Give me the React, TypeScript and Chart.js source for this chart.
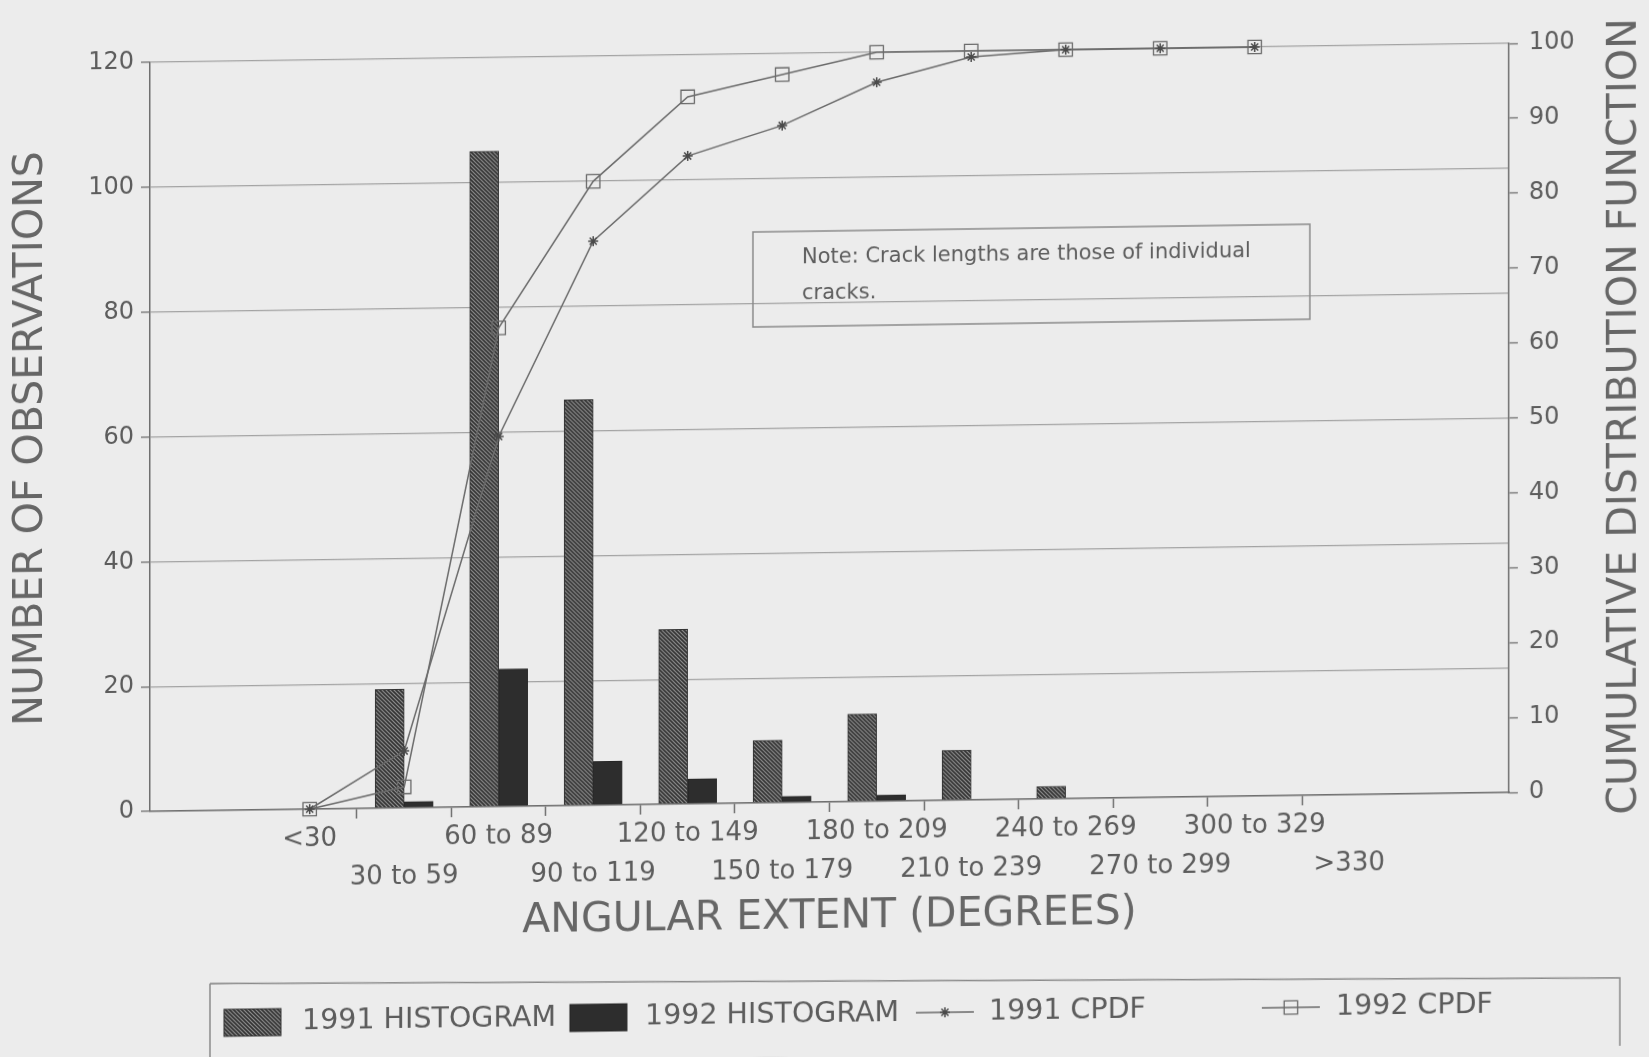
import React, { useEffect, useRef } from 'react';
import { Chart, registerables } from 'chart.js';
import { drawPoint } from 'chart.js/helpers';

Chart.register(...registerables);

// Angular-extent bins, in degrees
const categories = [
  '<30', '30 to 59', '60 to 89', '90 to 119', '120 to 149', '150 to 179',
  '180 to 209', '210 to 239', '240 to 269', '270 to 299', '300 to 329', '>330',
];

// Number of observations per bin
const hist1991 = [0, 19, 105, 65, 28, 10, 14, 8, 2, 0, 0, 0];
const hist1992 = [0, 1, 22, 7, 4, 1, 1, 0, 0, 0, 0, 0];

// Cumulative distribution (percent), one point per bin up to 300-329
const cpdf1991 = [0, 7.6, 49.4, 75.3, 86.5, 90.4, 96.0, 99.2, 100, 100, 100];
const cpdf1992 = [0, 2.8, 63.9, 83.3, 94.4, 97.2, 100, 100, 100, 100, 100];

const seriesLabels = ['1991 HISTOGRAM', '1992 HISTOGRAM', '1991 CPDF', '1992 CPDF'];
const countTicks = [0, 20, 40, 60, 80, 100, 120];
const percentTicks = [0, 10, 20, 30, 40, 50, 60, 70, 80, 90, 100];
const noteLines = ['Note: Crack lengths are those of individual', 'cracks.'];

const xTitle = 'ANGULAR EXTENT (DEGREES)';
const yTitle = 'NUMBER OF OBSERVATIONS';
const y1Title = 'CUMULATIVE DISTRIBUTION FUNCTION';

const FONT = "'DejaVu Sans', sans-serif";
const TEXT = '#5c5c5c';
const TITLE = '#666666';
const AXIS = '#6f6f6f';
const GRID = '#a3a3a3';
const LINE = '#6a6a6a';
const DARK = '#2d2d2d';

// empty space on either side of the first and last bin, in bin widths
const X_PAD = 1.69;

function makeHatch(): CanvasPattern | string {
  const c = document.createElement('canvas');
  c.width = 4;
  c.height = 4;
  const g = c.getContext('2d');
  if (!g) return '#555';
  g.fillStyle = '#8e8e8e';
  g.fillRect(0, 0, 4, 4);
  g.strokeStyle = '#343434';
  g.lineWidth = 1.6;
  g.beginPath();
  g.moveTo(-1, -1); g.lineTo(5, 5);
  g.moveTo(-1, 3); g.lineTo(1, 5);
  g.moveTo(3, -1); g.lineTo(5, 1);
  g.stroke();
  return g.createPattern(c, 'repeat') || '#555';
}

// Note box, right-hand axis title and boxed legend
const decorations = {
  id: 'decorations',
  afterDraw(chart: any) {
    const { ctx, chartArea } = chart;
    const ds = chart.data.datasets;
    ctx.save();

    // note box
    ctx.strokeStyle = '#8a8a8a';
    ctx.lineWidth = 1.5;
    ctx.strokeRect(753, 231, 557, 95);
    ctx.fillStyle = TEXT;
    ctx.font = `21px ${FONT}`;
    ctx.textAlign = 'left';
    ctx.textBaseline = 'middle';
    ctx.fillText(noteLines[0], 802, 258);
    ctx.fillText(noteLines[1], 802, 294);

    // right axis title, reading bottom to top
    ctx.save();
    ctx.translate(1625, (chartArea.top + chartArea.bottom) / 2);
    ctx.rotate(-Math.PI / 2);
    ctx.font = `41px ${FONT}`;
    ctx.fillStyle = TITLE;
    ctx.textAlign = 'center';
    ctx.fillText(y1Title, 0, 0);
    ctx.restore();

    // legend frame (its top edge runs a little flatter than the plot)
    ctx.strokeStyle = '#8a8a8a';
    ctx.lineWidth = 1.5;
    ctx.beginPath();
    ctx.moveTo(210, 975);
    ctx.lineTo(1620, 989);
    ctx.lineTo(1620, 1066);
    ctx.moveTo(210, 975);
    ctx.lineTo(210, 1052);
    ctx.lineTo(1620, 1066);
    ctx.stroke();

    const midY = 1014;
    const cols = [224, 570, 916, 1262];
    const textX = [302, 645, 989, 1336];
    ctx.font = `28.5px ${FONT}`;
    ctx.textBaseline = 'middle';
    ds.forEach((d: any, i: number) => {
      const x0 = cols[i];
      if (d.type === 'line') {
        ctx.strokeStyle = d.borderColor;
        ctx.lineWidth = d.borderWidth;
        ctx.beginPath();
        ctx.moveTo(x0, midY);
        ctx.lineTo(x0 + 58, midY);
        ctx.stroke();
        ctx.fillStyle = 'rgba(0,0,0,0)';
        ctx.strokeStyle = d.pointBorderColor;
        ctx.lineWidth = d.pointBorderWidth;
        drawPoint(ctx, {
          pointStyle: d.pointStyle,
          radius: d.pointRadius,
          borderWidth: d.pointBorderWidth,
          rotation: 0,
        } as any, x0 + 29, midY);
      } else {
        ctx.fillStyle = d.backgroundColor;
        ctx.fillRect(x0, midY - 13, 57, 27);
        ctx.strokeStyle = d.borderColor;
        ctx.lineWidth = 1;
        ctx.strokeRect(x0, midY - 13, 57, 27);
      }
      ctx.fillStyle = TEXT;
      ctx.fillText(d.label, textX[i], midY + 1);
    });
    ctx.restore();
  },
};

export default function App() {
  const canvasRef = useRef<HTMLCanvasElement | null>(null);

  useEffect(() => {
    const canvas = canvasRef.current;
    if (!canvas) return;
    const hatch = makeHatch();
    const lastIndex = categories.length - 1;

    const chart = new Chart(canvas, {
      type: 'bar',
      data: {
        datasets: [
          {
            type: 'bar',
            label: seriesLabels[0],
            data: hist1991.map((v, i) => ({ x: i, y: v })),
            backgroundColor: hatch as any,
            borderColor: '#333333',
            borderWidth: 1,
            barThickness: 29,
            yAxisID: 'y',
            order: 1,
          },
          {
            type: 'bar',
            label: seriesLabels[1],
            data: hist1992.map((v, i) => ({ x: i, y: v })),
            backgroundColor: DARK,
            borderColor: '#262626',
            borderWidth: 1,
            barThickness: 29,
            yAxisID: 'y',
            order: 1,
          },
          {
            type: 'line',
            label: seriesLabels[2],
            data: cpdf1991.map((v, i) => ({ x: i, y: v })),
            borderColor: LINE,
            borderWidth: 1.5,
            pointStyle: 'star',
            pointRadius: 5,
            pointBorderColor: '#4a4a4a',
            pointBackgroundColor: 'transparent',
            pointBorderWidth: 1.5,
            tension: 0,
            yAxisID: 'y1',
            order: 0,
            clip: false as any,
          },
          {
            type: 'line',
            label: seriesLabels[3],
            data: cpdf1992.map((v, i) => ({ x: i, y: v })),
            borderColor: LINE,
            borderWidth: 1.5,
            pointStyle: 'rect',
            pointRadius: 9.5,
            pointBorderColor: '#6a6a6a',
            pointBackgroundColor: 'transparent',
            pointBorderWidth: 1.3,
            tension: 0,
            yAxisID: 'y1',
            order: 0,
            clip: false as any,
          },
        ] as any,
      },
      options: {
        responsive: false,
        animation: false,
        devicePixelRatio: 1,
        layout: { padding: { top: 53, bottom: 115, left: 0, right: 0 } },
        plugins: {
          legend: { display: false },
          tooltip: { enabled: false },
        },
        scales: {
          x: {
            type: 'linear',
            position: 'bottom',
            min: -X_PAD,
            max: lastIndex + X_PAD,
            offset: false,
            afterBuildTicks: (scale: any) => {
              const t: { value: number }[] = [];
              for (let i = 0; i <= lastIndex; i++) {
                t.push({ value: i });
                if (i < lastIndex) t.push({ value: i + 0.5 });
              }
              scale.ticks = t;
            },
            afterFit: (scale: any) => {
              scale.height = 140;
            },
            ticks: {
              autoSkip: false,
              maxRotation: 0,
              minRotation: 0,
              padding: 1,
              color: TEXT,
              font: { family: FONT, size: 26, lineHeight: 1.5 },
              callback: (value: any) => {
                const v = Number(value);
                if (!Number.isInteger(v)) return '';
                const name = categories[v];
                return v % 2 === 0 ? [name, ''] : ['', name];
              },
            },
            grid: {
              offset: false,
              drawOnChartArea: false,
              drawTicks: true,
              tickLength: 10,
              tickWidth: 1.5,
              tickColor: (ctx: any) =>
                ctx.tick && Number.isInteger(ctx.tick.value) ? 'rgba(0,0,0,0)' : AXIS,
            },
            border: { display: true, color: AXIS, width: 1.5 },
            title: {
              display: true,
              text: xTitle,
              color: TITLE,
              font: { family: FONT, size: 41, lineHeight: 1.2 },
              padding: { top: 0, bottom: 0 },
            },
          },
          y: {
            type: 'linear',
            position: 'left',
            min: countTicks[0],
            max: countTicks[countTicks.length - 1],
            afterBuildTicks: (scale: any) => {
              scale.ticks = countTicks.map((v) => ({ value: v }));
            },
            afterFit: (scale: any) => {
              scale.width = 150;
            },
            ticks: {
              padding: 7,
              color: TEXT,
              font: { family: FONT, size: 24 },
            },
            grid: {
              color: GRID,
              lineWidth: 1.3,
              drawTicks: true,
              tickLength: 9,
              tickColor: AXIS,
              tickWidth: 1.3,
            },
            border: { display: true, color: AXIS, width: 1.5 },
            title: {
              display: true,
              text: yTitle,
              color: TITLE,
              font: { family: FONT, size: 41, lineHeight: 1.2 },
              padding: { top: 7, bottom: 0 },
            },
          },
          y1: {
            type: 'linear',
            position: 'right',
            min: percentTicks[0],
            max: percentTicks[percentTicks.length - 1],
            afterBuildTicks: (scale: any) => {
              scale.ticks = percentTicks.map((v) => ({ value: v }));
            },
            afterFit: (scale: any) => {
              scale.width = 140;
            },
            ticks: {
              padding: 11,
              color: TEXT,
              font: { family: FONT, size: 24 },
            },
            grid: {
              drawOnChartArea: false,
              drawTicks: true,
              tickLength: 9,
              tickColor: AXIS,
              tickWidth: 1.3,
            },
            border: { display: true, color: AXIS, width: 1.5 },
          },
        },
      } as any,
      plugins: [decorations],
    });

    return () => chart.destroy();
  }, []);

  return (
    <div style={{ position: 'fixed', inset: 0, background: '#ececec', overflow: 'hidden' }}>
      <div
        style={{
          position: 'absolute',
          left: 0,
          top: 0,
          width: 1649,
          height: 1057,
          transform: 'skewY(-0.8deg)',
        }}
      >
        <canvas
          ref={canvasRef}
          width={1649}
          height={1057}
          style={{ display: 'block', width: 1649, height: 1057 }}
        />
      </div>
    </div>
  );
}
